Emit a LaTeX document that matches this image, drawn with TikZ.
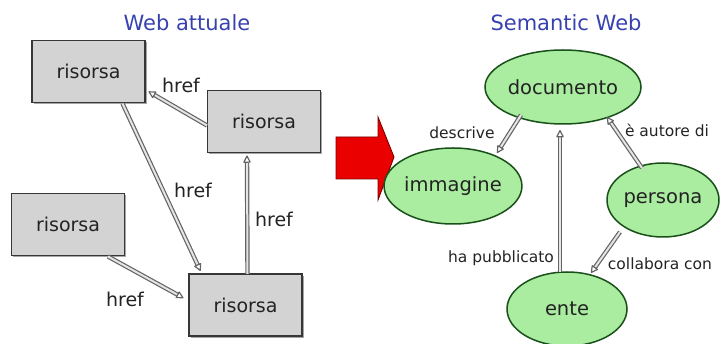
\documentclass[tikz,border=0pt]{standalone}
\usepackage{fontspec}
\setmainfont{DejaVu Sans}
\usetikzlibrary{arrows.meta,calc,shapes.geometric}
\definecolor{titleblue}{RGB}{55,65,175}
\definecolor{boxfill}{RGB}{211,211,211}
\definecolor{boxline}{RGB}{55,55,55}
\definecolor{elfill}{RGB}{170,236,160}
\definecolor{elline}{RGB}{25,80,25}
\definecolor{txt}{RGB}{35,35,35}
\definecolor{linkgray}{RGB}{100,100,100}
\definecolor{arrred}{RGB}{235,0,0}
\definecolor{arrline}{RGB}{120,0,0}
\tikzset{
  titletext/.style={text=titleblue, font=\fontsize{21}{24}\selectfont, inner sep=0pt},
  resbox/.style={draw=boxline, line width=1.4pt, fill=boxfill, minimum width=113pt, minimum height=62pt,
     text=txt, font=\fontsize{19}{22}\selectfont, inner sep=0pt},
  boxshadow/.style={fill=black!35, draw=none},
  concept/.style={ellipse, draw=elline, line width=1.5pt, fill=elfill, text=txt,
     font=\fontsize{19.5}{22}\selectfont, inner sep=0pt},
  hreflabel/.style={text=txt, font=\fontsize{19}{22}\selectfont, inner sep=0pt},
  rellabel/.style={text=txt, font=\fontsize{15.5}{18}\selectfont, inner sep=0pt},
  link/.style={draw=linkgray, line width=1.2pt, double=white!90!black, double distance=2pt,
     -{Triangle[open, length=8pt, width=8pt, round]}},
}
\begin{document}
\begin{tikzpicture}[x=1pt,y=-1pt]
\useasboundingbox (0,0) rectangle (721,344);
% titles
\node[titletext] (t1) at (187,23) {Web attuale};
\node[titletext] (t2) at (566,23) {Semantic Web};
% box shadows
\foreach \c in {(90,73.5),(265.5,123.5),(69.5,226.5),(247,307)}
  \fill[boxshadow] \c ++(-56.5,-31) rectangle ++(113,62);
% boxes
\node[resbox] (b1) at (88.5,71.5) {risorsa};
\node[resbox] (b2) at (264,121.5) {risorsa};
\node[resbox] (b3) at (68,224.5) {risorsa};
\node[resbox] (b4) at (245.5,305) {risorsa};
% left links
\draw[link] ($(b2.center)+(-57,4)$) -- ($(b1.center)+(60,20)$);
\draw[link] ($(b1.center)+(34,32)$) -- ($(b4.center)+(-45,-34)$);
\draw[link] ($(b4.center)+(2,-31)$) -- ($(b2.center)+(-17,34)$);
\draw[link] ($(b3.center)+(40,32)$) -- ($(b4.center)+(-62,-7)$);
\node[hreflabel] (h1) at (181,85) {href};
\node[hreflabel] (h2) at (193,190) {href};
\node[hreflabel] (h3) at (274,219) {href};
\node[hreflabel] (h4) at (125,299) {href};
% red arrow
\node[coordinate] (ra) at (336,158) {};
\draw[fill=arrred, draw=arrline, line width=0.9pt, line join=miter]
  ($(ra)+(0,-21)$) -- ($(ra)+(42,-21)$) -- ($(ra)+(42,-41)$) -- ($(ra)+(58,-1)$)
  -- ($(ra)+(42,42)$) -- ($(ra)+(42,21)$) -- ($(ra)+(0,21)$) -- cycle;
% concepts
\node[concept, minimum width=120pt, minimum height=74pt] (doc) at (563,87) {documento};
\node[concept, minimum width=116pt, minimum height=76pt] (img) at (453,186) {immagine};
\node[concept, minimum width=112pt, minimum height=74pt] (per) at (663,200) {persona};
\node[concept, minimum width=120pt, minimum height=74pt] (ent) at (567,309) {ente};
% right links
\draw[link] ($(doc.center)+(-42,28)$) -- ($(img.center)+(44,-33)$);
\draw[link] ($(per.center)+(-21,-32)$) -- ($(doc.center)+(44,30)$);
\draw[link] ($(ent.center)+(-7,-37)$) -- ($(doc.center)+(-3,43)$);
\draw[link] ($(per.center)+(-43,32)$) -- ($(ent.center)+(24,-36)$);
\node[rellabel] (l1) at (462,133) {descrive};
\node[rellabel] (l2) at (667,130) {è autore di};
\node[rellabel] (l3) at (501,258) {ha pubblicato};
\node[rellabel] (l4) at (660,264) {collabora con};
\end{tikzpicture}
\end{document}
